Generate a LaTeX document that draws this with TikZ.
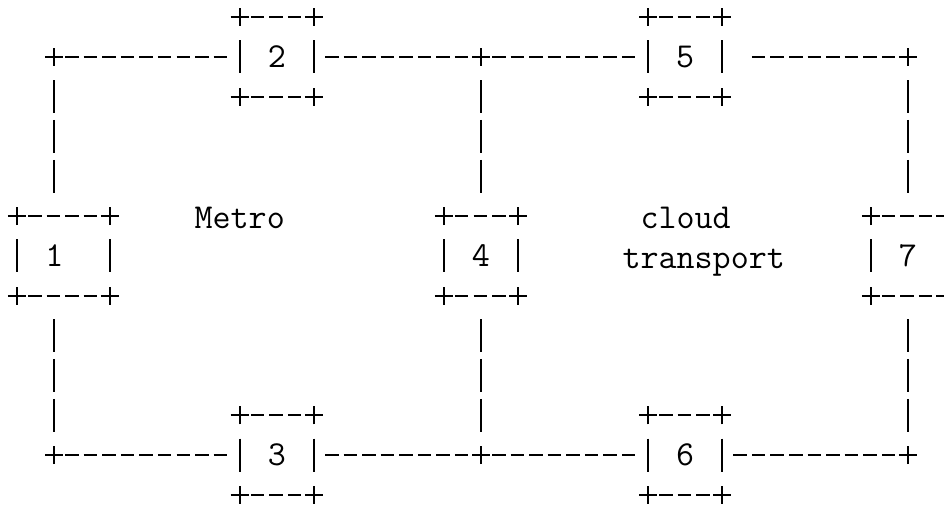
\documentclass[tikz,border=0pt]{standalone}
\usetikzlibrary{calc}

% One character cell is 18.56pt wide and 39.83pt tall; (col,row) addresses a cell.
\newcommand\asciiplus[1]{%
  \draw[glyph] ([xshift=-9pt]#1) -- ([xshift=9pt]#1)
               ([yshift=-9pt]#1) -- ([yshift=9pt]#1);}
\newcommand\asciiframe[1]{%
  \draw[hrule] (#1.north west) -- (#1.north east);
  \draw[hrule] (#1.south west) -- (#1.south east);
  \draw[vrule] (#1.north west) -- (#1.south west);
  \draw[vrule] (#1.north east) -- (#1.south east);
  \foreach \c in {north west,north east,south west,south east}{\asciiplus{#1.\c}}}

\begin{document}
\begin{tikzpicture}[
  x=18.56pt, y=-39.83pt,
  glyph/.style={line width=1.8pt, line cap=butt, black},
  hrule/.style={glyph, dash pattern=on 13.5pt off 5.06pt,
                shorten <=11.06pt, shorten >=12.56pt},
  hrulegap/.style={hrule, shorten <=29.62pt},
  vrule/.style={glyph, dash pattern=on 33pt off 6.83pt,
                shorten <=23.33pt, shorten >=23.33pt},
  txt/.style={font=\fontsize{35}{39.83}\selectfont\ttfamily,
              inner sep=0pt, outer sep=0pt, text=black},
  asciibox/.style={txt, minimum width=#1*18.56pt, minimum height=79.66pt},
]
\useasboundingbox (-17pt,17pt) rectangle (927pt,-488pt);
\clip (-17pt,17pt) rectangle (927pt,-488pt);

% boxes
\node[asciibox=4] (b2) at (14,1) {2};
\node[asciibox=4] (b5) at (36,1) {5};
\node[asciibox=5] (b1) at (2.5,6) {1\hphantom{0}};
\node[asciibox=4] (b4) at (25,6) {4};
\node[asciibox=4] (b7) at (48,6) {7};
\node[asciibox=4] (b3) at (14,11) {3};
\node[asciibox=4] (b6) at (36,11) {6};
\foreach \b in {b1,b2,b3,b4,b5,b6,b7}{\asciiframe{\b}}

% ring junctions
\coordinate (tl) at (2,1);
\coordinate (tm) at (25,1);
\coordinate (tr) at (48,1);
\coordinate (bl) at (2,11);
\coordinate (bm) at (25,11);
\coordinate (br) at (48,11);
\foreach \j in {tl,tm,tr,bl,bm,br}{\asciiplus{\j}}

% top ring
\draw[hrule] (tl) -- (b2.west);
\draw[hrule] (b2.east) -- (tm);
\draw[hrule] (tm) -- (b5.west);
\draw[hrulegap] (b5.east) -- (tr);

% verticals
\draw[vrule] (tl) -- (b1.north -| tl);
\draw[vrule] (tm) -- (b4.north);
\draw[vrule] (tr) -- (b7.north);
\draw[vrule] (b1.south -| bl) -- (bl);
\draw[vrule] (b4.south) -- (bm);
\draw[vrule] (b7.south) -- (br);

% bottom ring
\draw[hrule] (bl) -- (b3.west);
\draw[hrule] (b3.east) -- (bm);
\draw[hrule] (bm) -- (b6.west);
\draw[hrule] (b6.east) -- (br);

% region labels
\node[txt, anchor=base] (metro) at ([yshift=-12.5pt]12,5) {Metro};
\node[txt, align=left] (cloud) at ([yshift=-24.45pt]37,5)
  {\strut\hphantom{t}cloud\\\strut transport};
\end{tikzpicture}
\end{document}
